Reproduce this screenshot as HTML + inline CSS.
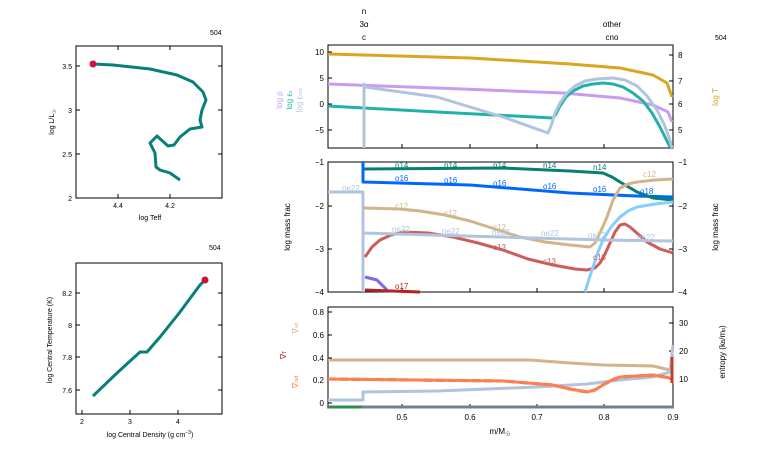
<!DOCTYPE html>
<html><head><meta charset="utf-8"><style>
body{margin:0;background:#fff}
svg{display:block;font-family:"Liberation Sans",sans-serif}
</style></head><body>
<svg width="766" height="460" viewBox="0 0 766 460" xmlns="http://www.w3.org/2000/svg">
<g font-size="8" fill="#000">
<!-- HR panel -->
<rect x="76" y="46" width="146" height="152" fill="none" stroke="#000" stroke-width="1"/>
<text x="210" y="35" font-size="7">504</text>
<g stroke="#000">
<line x1="76" y1="66" x2="80" y2="66"/><line x1="76" y1="110" x2="80" y2="110"/><line x1="76" y1="154" x2="80" y2="154"/>
<line x1="222" y1="66" x2="218" y2="66"/><line x1="222" y1="110" x2="218" y2="110"/><line x1="222" y1="154" x2="218" y2="154"/>
<line x1="118" y1="198" x2="118" y2="194"/><line x1="170" y1="198" x2="170" y2="194"/>
<line x1="118" y1="46" x2="118" y2="50"/><line x1="170" y1="46" x2="170" y2="50"/>
</g>
<text x="72" y="69" text-anchor="end" font-size="7">3.5</text>
<text x="72" y="113" text-anchor="end" font-size="7">3</text>
<text x="72" y="157" text-anchor="end" font-size="7">2.5</text>
<text x="72" y="201" text-anchor="end" font-size="7">2</text>
<text x="118" y="208" text-anchor="middle" font-size="7">4.4</text>
<text x="170" y="208" text-anchor="middle" font-size="7">4.2</text>
<text x="150" y="220" text-anchor="middle" font-size="7">log Teff</text>
<text transform="translate(54,122) rotate(-90)" text-anchor="middle" font-size="7">log L/L<tspan font-size="5" dy="2">☉</tspan></text>
<polyline fill="none" stroke="#087f7a" stroke-width="3" stroke-linejoin="round" points="93,64 113,65 150,69 177,75 193,82 203,92 206,100 202,110 200,120 202,127 190,129 180,137 174,145 168,146 157,136 150,143 155,153 156,167 160,170 170,173 180,180"/>
<circle cx="93" cy="64" r="3.5" fill="#d0103a"/>

<!-- Tc rho panel -->
<rect x="76" y="263" width="146" height="151" fill="none" stroke="#000"/>
<text x="209" y="250" font-size="7">504</text>
<g stroke="#000">
<line x1="76" y1="293" x2="80" y2="293"/><line x1="76" y1="325" x2="80" y2="325"/><line x1="76" y1="357" x2="80" y2="357"/><line x1="76" y1="390" x2="80" y2="390"/>
<line x1="222" y1="293" x2="218" y2="293"/><line x1="222" y1="325" x2="218" y2="325"/><line x1="222" y1="357" x2="218" y2="357"/><line x1="222" y1="390" x2="218" y2="390"/>
<line x1="82" y1="414" x2="82" y2="410"/><line x1="130" y1="414" x2="130" y2="410"/><line x1="178" y1="414" x2="178" y2="410"/>
</g>
<text x="72" y="296" text-anchor="end" font-size="7">8.2</text>
<text x="72" y="328" text-anchor="end" font-size="7">8</text>
<text x="72" y="360" text-anchor="end" font-size="7">7.8</text>
<text x="72" y="393" text-anchor="end" font-size="7">7.6</text>
<text x="82" y="424" text-anchor="middle" font-size="7">2</text>
<text x="130" y="424" text-anchor="middle" font-size="7">3</text>
<text x="178" y="424" text-anchor="middle" font-size="7">4</text>
<text x="150" y="437" text-anchor="middle" font-size="7">log Central Density (g cm<tspan font-size="5" dy="-3">−3</tspan><tspan dy="3">)</tspan></text>
<text transform="translate(52,340) rotate(-90)" text-anchor="middle" font-size="7">log Central Temperature (K)</text>
<polyline fill="none" stroke="#087f7a" stroke-width="3" points="93,396 117,373 140,352 147,352 160,337 180,312 200,285 205,280"/>
<circle cx="205" cy="280" r="3.5" fill="#d0103a"/>

<!-- Right top panel -->
<text x="364" y="14" text-anchor="middle">n</text>
<text x="364" y="27" text-anchor="middle">3α</text>
<text x="364" y="40" text-anchor="middle">c</text>
<text x="612" y="27" text-anchor="middle">other</text>
<text x="612" y="40" text-anchor="middle">cno</text>
<text x="715" y="40" font-size="7">504</text>
<rect x="328" y="45" width="345" height="103" fill="none" stroke="#000"/>
<g stroke="#000">
<line x1="328" y1="52" x2="332" y2="52"/><line x1="328" y1="78" x2="332" y2="78"/><line x1="328" y1="104" x2="332" y2="104"/><line x1="328" y1="130" x2="332" y2="130"/>
<line x1="673" y1="55" x2="669" y2="55"/><line x1="673" y1="81" x2="669" y2="81"/><line x1="673" y1="104" x2="669" y2="104"/><line x1="673" y1="130" x2="669" y2="130"/>
<line x1="402" y1="148" x2="402" y2="144"/><line x1="470" y1="148" x2="470" y2="144"/><line x1="537" y1="148" x2="537" y2="144"/><line x1="604" y1="148" x2="604" y2="144"/>
</g>
<text x="324" y="55" text-anchor="end">10</text>
<text x="324" y="81" text-anchor="end">5</text>
<text x="324" y="107" text-anchor="end">0</text>
<text x="324" y="133" text-anchor="end">−5</text>
<text x="678" y="58">8</text><text x="678" y="84">7</text><text x="678" y="107">6</text><text x="678" y="133">5</text>
<text transform="translate(282,100) rotate(-90)" text-anchor="middle" fill="#c89cf0">log ρ</text>
<text transform="translate(292,100) rotate(-90)" text-anchor="middle" fill="#20b2aa">log ε<tspan font-size="5">ν</tspan></text>
<text transform="translate(302,100) rotate(-90)" text-anchor="middle" fill="#b0c4de">log ε<tspan font-size="5">nuc</tspan></text>
<text transform="translate(718,97) rotate(-90)" text-anchor="middle" fill="#daa520">log T</text>
<g fill="none" stroke-width="3" stroke-linejoin="round">
<polyline stroke="#daa520" points="328,54 470,58 570,64 620,68 653,75 667,83 672,97"/>
<polyline stroke="#c89cf0" points="328,84 437,88 563,93 620,98 653,105 668,112 672,122"/>
<polyline stroke="#20b2aa" points="328,106 437,112 553,118 556,114 560,106 566,97 573,91 583,86 593,84 603,83 613,84 623,87 633,93 643,101 652,113 660,127 666,139 670,147"/>
<polyline stroke="#b0c4de" points="364,148 364,84 365,87 437,97 503,117 548,133 551,126 555,113 560,103 567,93 575,86 585,81 597,79 613,78 625,80 637,86 647,96 657,110 664,124 669,137 672,148"/>
</g>

<!-- Middle panel -->
<rect x="328" y="162" width="345" height="130" fill="none" stroke="#000"/>
<g stroke="#000">
<line x1="328" y1="206" x2="332" y2="206"/><line x1="328" y1="249" x2="332" y2="249"/>
<line x1="673" y1="206" x2="669" y2="206"/><line x1="673" y1="249" x2="669" y2="249"/>
<line x1="402" y1="292" x2="402" y2="288"/><line x1="470" y1="292" x2="470" y2="288"/><line x1="537" y1="292" x2="537" y2="288"/><line x1="604" y1="292" x2="604" y2="288"/>
</g>
<text x="324" y="165" text-anchor="end">−1</text><text x="324" y="209" text-anchor="end">−2</text><text x="324" y="252" text-anchor="end">−3</text><text x="324" y="295" text-anchor="end">−4</text>
<text x="678" y="165">−1</text><text x="678" y="209">−2</text><text x="678" y="252">−3</text><text x="678" y="295">−4</text>
<text transform="translate(290,227) rotate(-90)" text-anchor="middle">log mass frac</text>
<text transform="translate(718,227) rotate(-90)" text-anchor="middle">log mass frac</text>
<g fill="none" stroke-width="3" stroke-linejoin="round">
<polyline stroke="#b0c4de" points="328,192 363,192 363,292"/>
<polyline stroke="#0066ff" points="363,162 363,182 470,185 570,193 637,196 673,197"/>
<polyline stroke="#087f74" points="363,169 503,168 570,171 603,173 612,177 620,182 637,192 653,198 673,200"/>
<polyline stroke="#d2b48c" points="363,208 400,209 420,211 445,215 470,221 495,229 520,237 545,242 570,245 590,247 595,243 600,233 607,217 613,200 620,188 628,184 637,182 655,180 673,179"/>
<polyline stroke="#cd5c5c" points="365,257 372,247 380,240 391,235 403,232 428,233 453,237 478,243 503,250 528,259 553,265 575,269 587,270 595,268 600,263 605,254 610,243 615,232 620,225 625,224 630,227 638,234 647,242 660,249 673,253"/>
<polyline stroke="#b0c4de" points="363,233 603,240 673,241"/>
<polyline stroke="#87cefa" points="585,292 589,279 593,267 598,252 603,240 611,227 620,217 628,211 637,207 655,204 673,202"/>
<polyline stroke="#7b68ee" points="365,277 377,280 387,290"/>
<polyline stroke="#b22222" points="365,290 420,292"/>
</g>
<g font-size="8">
<text x="395" y="168" fill="#087f74">n14</text><text x="444" y="168" fill="#087f74">n14</text><text x="493" y="168" fill="#087f74">n14</text><text x="543" y="168" fill="#087f74">n14</text><text x="593" y="170" fill="#087f74">n14</text>
<text x="395" y="181" fill="#0066ff">o16</text><text x="444" y="183" fill="#0066ff">o16</text><text x="493" y="186" fill="#0066ff">o16</text><text x="543" y="189" fill="#0066ff">o16</text><text x="593" y="192" fill="#0066ff">o16</text><text x="640" y="194" fill="#0066ff">o18</text>
<text x="342" y="191" fill="#b0c4de">ne22</text>
<text x="395" y="209" fill="#d2b48c">c12</text><text x="444" y="216" fill="#d2b48c">c12</text><text x="493" y="230" fill="#d2b48c">c12</text><text x="643" y="177" fill="#d2b48c">c12</text>
<text x="392" y="232" fill="#b0c4de">ne22</text><text x="442" y="234" fill="#b0c4de">ne22</text><text x="492" y="235" fill="#b0c4de">ne22</text><text x="541" y="236" fill="#b0c4de">ne22</text><text x="588" y="238" fill="#b0c4de">ne22</text><text x="637" y="240" fill="#b0c4de">ne22</text>
<text x="493" y="250" fill="#cd5c5c">c13</text><text x="543" y="264" fill="#cd5c5c">c13</text><text x="593" y="260" fill="#cd5c5c">c13</text>
<text x="395" y="289" fill="#b22222">o17</text>
</g>

<!-- Bottom panel -->
<rect x="328" y="307" width="345" height="101" fill="none" stroke="#000"/>
<g stroke="#000">
<line x1="328" y1="312" x2="332" y2="312"/><line x1="328" y1="335" x2="332" y2="335"/><line x1="328" y1="358" x2="332" y2="358"/><line x1="328" y1="380" x2="332" y2="380"/><line x1="328" y1="403" x2="332" y2="403"/>
<line x1="673" y1="323" x2="669" y2="323"/><line x1="673" y1="351" x2="669" y2="351"/><line x1="673" y1="379" x2="669" y2="379"/>
<line x1="402" y1="408" x2="402" y2="404"/><line x1="470" y1="408" x2="470" y2="404"/><line x1="537" y1="408" x2="537" y2="404"/><line x1="604" y1="408" x2="604" y2="404"/>
</g>
<text x="324" y="315" text-anchor="end">0.8</text><text x="324" y="338" text-anchor="end">0.6</text><text x="324" y="361" text-anchor="end">0.4</text><text x="324" y="383" text-anchor="end">0.2</text><text x="324" y="406" text-anchor="end">0</text>
<text x="679" y="326">30</text><text x="679" y="354">20</text><text x="679" y="382">10</text>
<text x="402" y="420" text-anchor="middle">0.5</text><text x="470" y="420" text-anchor="middle">0.6</text><text x="537" y="420" text-anchor="middle">0.7</text><text x="604" y="420" text-anchor="middle">0.8</text><text x="673" y="420" text-anchor="middle">0.9</text>
<text x="500" y="434" text-anchor="middle">m/M<tspan font-size="6" dy="2">☉</tspan></text>
<text transform="translate(298,328) rotate(-90)" text-anchor="middle" fill="#d2b48c">∇<tspan font-size="5">ad</tspan></text>
<text transform="translate(286,355) rotate(-90)" text-anchor="middle" fill="#b22222">∇<tspan font-size="5">T</tspan></text>
<text transform="translate(298,382) rotate(-90)" text-anchor="middle" fill="#ff7f50">∇<tspan font-size="5">rad</tspan></text>
<text transform="translate(725,352) rotate(-90)" text-anchor="middle">entropy (k<tspan font-size="5">B</tspan>/m<tspan font-size="5">p</tspan>)</text>
<g fill="none" stroke-width="3" stroke-linejoin="round">
<polyline stroke="#708090" points="328,407 673,407"/>
<polyline stroke="#2e8b57" points="328,407 362,407"/>
<polyline stroke="#d2b48c" points="328,360 530,360 570,363 603,365 653,366 670,370"/>
<polyline stroke="#b0c4de" points="328,400 363,400 363,392 437,391 537,387 587,384 620,380 653,377 670,372 673,345"/>
<polyline stroke="#b22222" stroke-dasharray="8,4" points="328,379 503,381 553,385 570,389 587,392 595,390 603,385 612,380 620,377 653,375 670,378"/>
<polyline stroke="#ff7f50" points="328,379 503,381 553,385 570,389 587,392 595,390 603,385 612,380 620,377 653,375 670,378"/>
<polyline stroke="#cd3a2a" points="672,357 672,383"/>
</g>
</g>
</svg>
</body></html>
